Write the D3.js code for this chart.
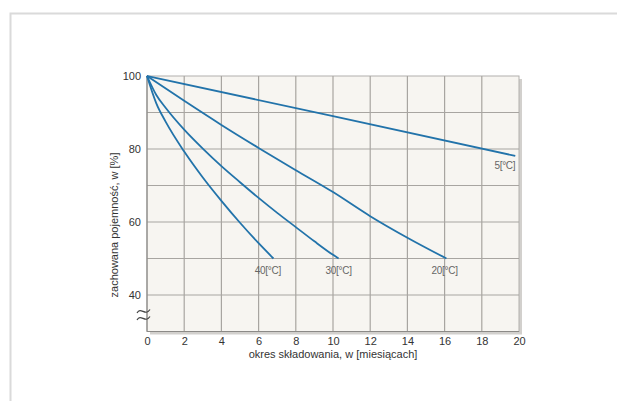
<!DOCTYPE html>
<html><head><meta charset="utf-8">
<script src="https://cdn.jsdelivr.net/npm/d3@7"></script>
<style>
html,body{margin:0;padding:0;background:#fff;}
svg{display:block;font-family:"Liberation Sans",Arial,sans-serif;}
</style></head>
<body>
<svg id="chart" width="617" height="401"></svg>
<script>
const xTicks = [0,2,4,6,8,10,12,14,16,18,20];
const yTicks = [40,60,80,100];
const yGrid = [40,50,60,70,80,90,100];
const series5 = [[0,100],[10,89],[19.8,78.1]];
const series20 = [[0,100],[2,93.2],[4,86.6],[6,80.3],[8,74.2],[10,68.2],[12,61.6],[14,55.7],[16.1,50]];
const series30 = [[0,100],[0.5,94.8],[1,91.3],[2,85.3],[3,80.1],[4,75.3],[5,70.9],[6,66.6],[7,62.5],[8,58.6],[9,54.7],[10,51],[10.3,50]];
const series40 = [[0,100],[0.5,92.5],[1,87.5],[2,79.3],[3,72.2],[4,65.8],[5,59.8],[6,54.2],[6.8,50]];
const seriesNames = ["5[°C]","20[°C]","30[°C]","40[°C]"];
const seriesData = [series5, series20, series30, series40];

const svg = d3.select("#chart");
// outer frame
svg.append("path").attr("d","M10.5,401 V13.5 H617").attr("fill","none").attr("stroke","#dadada").attr("stroke-width",2);

const x = d3.scaleLinear().domain([0,20]).range([147,519]);
const y = d3.scaleLinear().domain([30,100]).range([331.5,76]);

const g = svg.append("g");
// shadow
g.append("rect").attr("x",x(0)+3).attr("y",y(100)+3).attr("width",x(20)-x(0)).attr("height",y(30)-y(100)).attr("fill","#d2d0cd");
g.append("rect").attr("x",x(0)).attr("y",y(100)).attr("width",x(20)-x(0)).attr("height",y(30)-y(100)).attr("fill","#f7f5f1").attr("stroke","#b2b0ad").attr("stroke-width",1);

// grid
g.selectAll(".vg").data(xTicks.slice(1,-1)).join("line")
 .attr("x1",d=>x(d)).attr("x2",d=>x(d)).attr("y1",y(100)).attr("y2",y(30))
 .attr("stroke","#a8a5a1").attr("stroke-width",1.2);
g.selectAll(".hg").data(yGrid.slice(0,-1)).join("line")
 .attr("x1",x(0)).attr("x2",x(20)).attr("y1",d=>y(d)).attr("y2",d=>y(d))
 .attr("stroke","#a8a5a1").attr("stroke-width",1.2);
// axes lines
g.append("line").attr("x1",x(0)).attr("x2",x(0)).attr("y1",y(100)).attr("y2",y(30)).attr("stroke","#8c8a87").attr("stroke-width",1.2);
g.append("line").attr("x1",x(0)).attr("x2",x(20)).attr("y1",y(30)).attr("y2",y(30)).attr("stroke","#8c8a87").attr("stroke-width",1.2);

// tick labels
const xAxis = d3.axisBottom(x).tickValues(xTicks).tickSize(0).tickPadding(6);
const xa = svg.append("g").attr("transform",`translate(0,${y(30)})`).call(xAxis);
xa.select(".domain").remove();
xa.selectAll("text").attr("font-size",11).attr("fill","#333").attr("font-family","Liberation Sans, Arial, sans-serif");

const yAxis = d3.axisLeft(y).tickValues(yTicks).tickSize(0).tickPadding(6);
const ya = svg.append("g").attr("transform",`translate(${x(0)},0)`).call(yAxis);
ya.select(".domain").remove();
ya.selectAll("text").attr("font-size",11).attr("fill","#333").attr("font-family","Liberation Sans, Arial, sans-serif");

// axis break symbol
const bx = x(0), by1 = 311, by2 = 318;
[by1,by2].forEach(yy=>{
  svg.append("path").attr("d",`M${bx-10},${yy+2} C${bx-6},${yy-5} ${bx-2},${yy+6} ${bx+3},${yy-1.5}`)
   .attr("fill","none").attr("stroke","#444").attr("stroke-width",1.2);
});

// titles
svg.append("text").attr("x",(x(0)+x(20))/2).attr("y",358).attr("text-anchor","middle")
 .attr("font-size",11).attr("fill","#333").text("okres składowania, w [miesiącach]");
svg.append("text").attr("transform",`translate(118,225) rotate(-90)`).attr("text-anchor","middle")
 .attr("font-size",11).attr("fill","#333").text("zachowana pojemność, w [%]");

// curves
const line = d3.line().x(d=>x(d[0])).y(d=>y(d[1])).curve(d3.curveMonotoneX);
g.selectAll(".curve").data(seriesData).join("path")
 .attr("d",line).attr("fill","none").attr("stroke","#2273aa").attr("stroke-width",1.8);

// curve labels
const labelPos = [[19.8,74.4,"end"],[16,45.7,"middle"],[10.3,45.7,"middle"],[6.5,45.7,"middle"]];
svg.selectAll(".lbl").data(seriesNames).join("text")
 .attr("x",(d,i)=>x(labelPos[i][0])).attr("y",(d,i)=>y(labelPos[i][1]))
 .attr("text-anchor",(d,i)=>labelPos[i][2])
 .attr("font-size",10).attr("fill","#666").attr("letter-spacing",-0.3).text(d=>d);
</script>
</body></html>
